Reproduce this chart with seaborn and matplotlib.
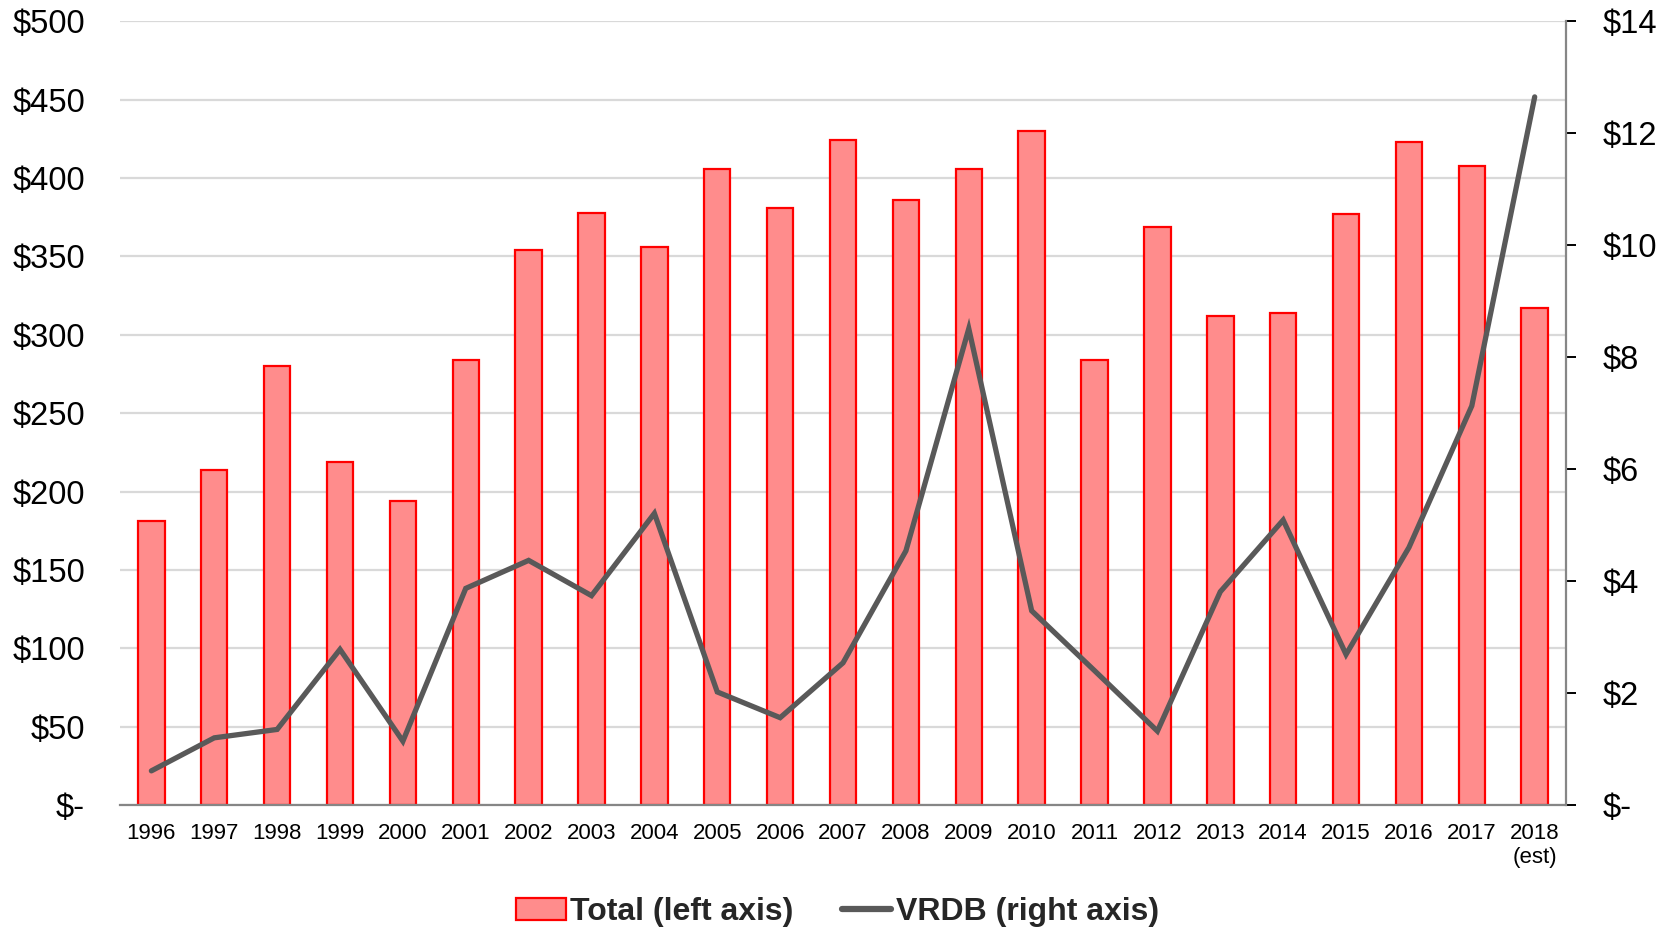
import matplotlib
matplotlib.use("Agg")
import matplotlib.pyplot as plt
import seaborn as sns
import pandas as pd
import numpy as np
from matplotlib.ticker import FixedLocator, FuncFormatter
from matplotlib.patches import Patch
from matplotlib.lines import Line2D

years = ["1996", "1997", "1998", "1999", "2000", "2001", "2002", "2003", "2004",
         "2005", "2006", "2007", "2008", "2009", "2010", "2011", "2012", "2013",
         "2014", "2015", "2016", "2017", "2018\n(est)"]
total = [181, 214, 280, 219, 194, 284, 354, 378, 356, 406, 381, 424, 386, 406,
         430, 284, 369, 312, 314, 377, 423, 408, 317]
vrdb = [0.61, 1.20, 1.35, 2.78, 1.14, 3.87, 4.37, 3.74, 5.21, 2.02, 1.56, 2.54,
        4.54, 8.51, 3.47, 2.40, 1.32, 3.81, 5.09, 2.69, 4.60, 7.13, 12.65]
left_ticks = [0, 50, 100, 150, 200, 250, 300, 350, 400, 450, 500]
right_ticks = [0, 2, 4, 6, 8, 10, 12, 14]

sns.set_theme(style="white")
plt.rcParams["font.family"] = ["Liberation Sans", "DejaVu Sans"]

df = pd.DataFrame({"year": years, "total": total, "vrdb": vrdb})
df["pos"] = np.arange(len(df))

fig = plt.figure(figsize=(16.75, 9.27), dpi=100)
ax = fig.add_axes([0.0716, 0.1316, 0.8634, 0.8454])

bar_face = "#FF8C8C"
bar_edge = "#FF0000"
line_col = "#595959"
axis_col = "#868686"
grid_col = "#D9D9D9"

sns.barplot(data=df, x="year", y="total", ax=ax, color=bar_face, width=0.42,
            saturation=1, edgecolor=bar_edge, linewidth=1.6, zorder=2)
ax.set_ylim(0, 500)
ax.set_xlim(-0.5, len(years) - 0.5)
ax.yaxis.set_major_locator(FixedLocator(left_ticks))
ax.yaxis.set_major_formatter(FuncFormatter(lambda v, p: "$-" if v == 0 else f"${int(v)}"))
ax.grid(axis="y", color=grid_col, linewidth=1.6, zorder=0)
ax.set_axisbelow(True)
ax.set_xlabel("")
ax.set_ylabel("")
ax.tick_params(axis="y", labelsize=23.5, colors="black", length=0, pad=25)
ax.tick_params(axis="x", which="major", labelsize=16, length=0, pad=13, colors="black")
ax.set_xticks(np.arange(-0.5, len(years), 1.0), minor=True)
ax.tick_params(axis="x", which="minor", length=7, width=1.4, color=axis_col)
for s in ["left", "top", "right"]:
    ax.spines[s].set_visible(False)
ax.spines["bottom"].set_color(axis_col)
ax.spines["bottom"].set_linewidth(1.6)

ax2 = ax.twinx()
sns.lineplot(data=df, x="pos", y="vrdb", ax=ax2, color=line_col, linewidth=3.8,
             zorder=3, solid_capstyle="round", solid_joinstyle="miter")
ax2.set_ylim(0, 14)
ax2.set_xlim(-0.5, len(years) - 0.5)
ax2.yaxis.set_major_locator(FixedLocator(right_ticks))
ax2.yaxis.set_major_formatter(FuncFormatter(lambda v, p: "$-" if v == 0 else f"${int(v)}"))
ax2.set_ylabel("")
ax2.set_xlabel("")
ax2.tick_params(axis="y", labelsize=23.5, colors="black", length=7, width=1.4, pad=19)
for t in ax2.yaxis.get_ticklines():
    t.set_color(axis_col)
for s in ["left", "top", "bottom"]:
    ax2.spines[s].set_visible(False)
ax2.spines["right"].set_color(axis_col)
ax2.spines["right"].set_linewidth(1.6)
ax2.grid(False)

handles = [Patch(facecolor=bar_face, edgecolor=bar_edge, linewidth=1.6),
           Line2D([0], [0], color=line_col, linewidth=4.5, solid_capstyle="round")]
fig.legend(handles, ["Total (left axis)", "VRDB (right axis)"], loc="center",
           bbox_to_anchor=(0.5, 0.016), ncol=2, frameon=False,
           prop={"weight": "bold", "size": 23}, handlelength=1.55,
           handletextpad=0.15, columnspacing=1.5, handleheight=0.65)

fig.savefig("out.png", dpi=100)
